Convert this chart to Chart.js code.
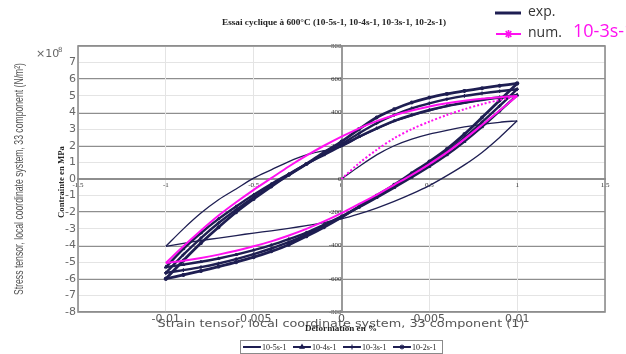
<!DOCTYPE html>
<html>
<head>
<meta charset="utf-8">
<title>Essai cyclique à 600°C</title>
<style>
  html, body { margin: 0; padding: 0; background: #ffffff; }
  #wrap { width: 626px; height: 354px; position: relative; }
</style>
<script src="https://cdn.jsdelivr.net/npm/chart.js@4.4.0/dist/chart.umd.min.js"></script>
</head>
<body>
<div id="wrap"><canvas id="c" width="626" height="354"></canvas></div>
<script>
// Strain (%) sampled along each branch of the hysteresis loops
const strainUp   = [-1, -0.9, -0.8, -0.7, -0.6, -0.5, -0.4, -0.3, -0.2, -0.1, 0, 0.1, 0.2, 0.3, 0.4, 0.5, 0.6, 0.7, 0.8, 0.9, 1];
const strainDown = [1, 0.9, 0.8, 0.7, 0.6, 0.5, 0.4, 0.3, 0.2, 0.1, 0, -0.1, -0.2, -0.3, -0.4, -0.5, -0.6, -0.7, -0.8, -0.9, -1];
const strainLoad = [0, 0.1, 0.2, 0.3, 0.4, 0.5, 0.6, 0.7, 0.8, 0.9, 1];

// Experimental curves, stress in MPa: first loading, unloading, reloading
const exp5Load = [0, 75, 145, 200, 240, 270, 293, 313, 329, 341, 350];
const exp5Down = [350, 250, 160, 85, 20, -40, -90, -135, -175, -210, -240, -262, -280, -297, -312, -325, -340, -355, -370, -387, -405];
const exp5Up   = [-405, -300, -205, -125, -60, 5, 55, 105, 145, 170, 195, 250, 300, 345, 380, 410, 435, 455, 472, 486, 498];

const exp4Up   = [-530, -420, -325, -240, -165, -95, -30, 30, 90, 145, 200, 255, 305, 350, 385, 415, 440, 460, 478, 492, 505];
const exp4Down = [505, 408, 313, 225, 145, 75, 10, -52, -112, -170, -225, -275, -322, -362, -398, -428, -455, -478, -498, -515, -530];

const exp3Up   = [-565, -455, -355, -265, -185, -110, -40, 25, 90, 150, 210, 275, 335, 385, 425, 455, 480, 500, 515, 528, 540];
const exp3Down = [540, 440, 342, 248, 162, 90, 22, -42, -105, -168, -228, -285, -335, -380, -418, -452, -482, -508, -530, -548, -565];

const exp2Up   = [-600, -490, -385, -290, -200, -120, -45, 25, 90, 160, 225, 300, 370, 420, 460, 490, 512, 530, 546, 561, 575];
const exp2Down = [575, 472, 370, 270, 180, 105, 35, -35, -100, -165, -230, -290, -345, -395, -435, -470, -500, -527, -553, -577, -600];

// Simulated loop at 10-3 s-1 and its first loading
const numUp   = [-505, -405, -310, -220, -140, -65, 5, 75, 140, 200, 255, 305, 348, 383, 412, 436, 455, 470, 482, 492, 500];
const numDown = [500, 412, 325, 240, 160, 90, 25, -35, -95, -150, -205, -255, -300, -340, -375, -405, -432, -455, -475, -492, -505];
const numLoad = [0, 95, 175, 245, 300, 345, 385, 420, 450, 475, 497];

const rateLabels = ['10-5s-1', '10-4s-1', '10-3s-1', '10-2s-1'];

const NAVY = '#1e1e52';
const PINK = '#ff10f0';
const GRID_DARK = '#8e8e8e';
const GRID_LIGHT = '#e4e4e4';

function pts(xs, ys) { return xs.map((x, i) => ({ x: x, y: ys[i] })); }

function branch(label, xs, ys, extra) {
  return Object.assign({
    label: label,
    data: pts(xs, ys),
    showLine: true,
    borderColor: NAVY,
    backgroundColor: NAVY,
    borderWidth: 2.4,
    pointRadius: 0,
    tension: 0.3,
    order: 2
  }, extra || {});
}

const thin5 = { borderWidth: 1.3, order: 4 };
const markers4 = { pointRadius: 1.6, pointStyle: 'triangle', pointBorderWidth: 1, order: 3 };
const markers3 = { pointRadius: 1.8, pointStyle: 'cross', pointBorderWidth: 1.2, order: 2 };
const markers2 = { pointRadius: 2, pointStyle: 'star', pointBorderWidth: 1.1, borderWidth: 2.8, order: 1 };
const sim = { borderColor: PINK, backgroundColor: PINK, borderWidth: 2, order: 0 };

const datasets = [
  branch(rateLabels[0], strainLoad, exp5Load, thin5),
  branch(rateLabels[0], strainDown, exp5Down, thin5),
  branch(rateLabels[0], strainUp, exp5Up, thin5),
  branch(rateLabels[1], strainUp, exp4Up, markers4),
  branch(rateLabels[1], strainDown, exp4Down, markers4),
  branch(rateLabels[2], strainUp, exp3Up, markers3),
  branch(rateLabels[2], strainDown, exp3Down, markers3),
  branch(rateLabels[3], strainUp, exp2Up, markers2),
  branch(rateLabels[3], strainDown, exp2Down, markers2),
  branch('num.', strainUp, numUp, sim),
  branch('num.', strainDown, numDown, sim),
  branch('num.', strainLoad, numLoad, Object.assign({}, sim, { borderDash: [2, 2] }))
];

// Fitted text: drawn centred at (x, y), squeezed horizontally to the given width
function fitText(ctx, text, x, y, width, font, color, rot) {
  ctx.save();
  ctx.font = font;
  ctx.fillStyle = color;
  ctx.textAlign = 'center';
  ctx.textBaseline = 'middle';
  ctx.translate(x, y);
  if (rot) ctx.rotate(rot);
  if (width) {
    const w = ctx.measureText(text).width;
    ctx.scale(width / w, 1);
  }
  ctx.fillText(text, 0, 0);
  ctx.restore();
}

function marker(ctx, style, x, y, r, color, bw) {
  ctx.save();
  ctx.strokeStyle = color;
  ctx.fillStyle = color;
  ctx.lineWidth = bw;
  Chart.helpers.drawPoint(ctx, { pointStyle: style, radius: r, borderWidth: bw, rotation: 0 }, x, y);
  ctx.restore();
}

const decorations = {
  id: 'decorations',
  beforeDatasetsDraw(chart) {
    const { ctx, chartArea: a } = chart;
    ctx.save();
    ctx.strokeStyle = GRID_DARK;
    ctx.lineWidth = 1.6;
    ctx.strokeRect(a.left, a.top, a.right - a.left, a.bottom - a.top);
    ctx.restore();
  },
  afterDraw(chart) {
    const ctx = chart.ctx;
    // chart title
    fitText(ctx, 'Essai cyclique à 600°C (10-5s-1, 10-4s-1, 10-3s-1, 10-2s-1)', 334, 23, 224, 'bold 9px "Liberation Serif"', '#222');

    // exponent of the N/m² axis
    ctx.save();
    ctx.fillStyle = '#666';
    ctx.font = '11px "DejaVu Sans"';
    ctx.textBaseline = 'middle';
    ctx.fillText('×10', 36, 54);
    ctx.font = '7px "DejaVu Sans"';
    ctx.fillText('8', 58, 50);
    ctx.restore();

    // axis titles
    fitText(ctx, 'Stress tensor, local coordinate system, 33 component (N/m²)', 20, 179, 232, '12px "Liberation Sans"', '#555', -Math.PI / 2);
    fitText(ctx, 'Strain tensor, local coordinate system, 33 component (1)', 341, 324, 367, '11px "DejaVu Sans"', '#555');
    fitText(ctx, 'Contrainte en MPa', 62, 182, 72, 'bold 8px "Liberation Serif"', '#222', -Math.PI / 2);
    fitText(ctx, 'Déformation en %', 341, 329, 72, 'bold 8px "Liberation Serif"', '#222');

    // legend: experiment vs simulation
    ctx.save();
    ctx.lineCap = 'butt';
    ctx.strokeStyle = NAVY;
    ctx.lineWidth = 3;
    ctx.beginPath(); ctx.moveTo(495, 13); ctx.lineTo(521, 13); ctx.stroke();
    ctx.strokeStyle = PINK;
    ctx.lineWidth = 2;
    ctx.beginPath(); ctx.moveTo(496, 34); ctx.lineTo(521, 34); ctx.stroke();
    ctx.restore();
    marker(ctx, 'star', 508.5, 34, 4, PINK, 1.6);
    ctx.save();
    ctx.textBaseline = 'middle';
    ctx.fillStyle = '#333';
    ctx.font = '14px "Open Sans"';
    ctx.fillText('exp.', 528, 12);
    ctx.fillText('num.', 528, 33);
    ctx.fillStyle = PINK;
    ctx.font = '18px "Open Sans"';
    ctx.fillText('10-3s-1', 573, 32);
    ctx.restore();

    // legend: strain rates
    ctx.save();
    ctx.strokeStyle = '#8a8a8a';
    ctx.lineWidth = 1;
    ctx.strokeRect(240.5, 340.5, 202, 13);
    const lx = [243, 293, 343, 393];
    const styles = [null, 'triangle', 'cross', 'star'];
    ctx.font = '8px "Liberation Serif"';
    ctx.textBaseline = 'middle';
    rateLabels.forEach((lab, i) => {
      ctx.strokeStyle = NAVY;
      ctx.lineWidth = 2;
      ctx.beginPath(); ctx.moveTo(lx[i], 347); ctx.lineTo(lx[i] + 18, 347); ctx.stroke();
      if (styles[i]) marker(ctx, styles[i], lx[i] + 9, 347, 2.4, NAVY, 1.1);
      ctx.fillStyle = '#222';
      ctx.fillText(lab, lx[i] + 19, 347.5);
    });
    ctx.restore();
  }
};

const serifTicks = { family: 'Liberation Serif', size: 7 };
const sansTicks = { family: 'DejaVu Sans', size: 11 };

new Chart(document.getElementById('c'), {
  type: 'scatter',
  data: { datasets: datasets },
  options: {
    responsive: false,
    animation: false,
    events: [],
    layout: { padding: { top: 46, right: 21, left: 0, bottom: 0 } },
    plugins: { legend: { display: false }, tooltip: { enabled: false }, title: { display: false } },
    scales: {
      // strain in % and stress in MPa, axes crossing at the origin
      x: {
        type: 'linear', min: -1.5, max: 1.5, position: { y: 0 },
        ticks: { stepSize: 0.5, color: '#333', font: serifTicks, padding: 2, maxRotation: 0,
                 callback: v => String(Math.round(v * 10) / 10) },
        grid: { color: GRID_LIGHT, lineWidth: 1, drawTicks: false },
        border: { color: GRID_DARK, width: 2 }
      },
      y: {
        type: 'linear', min: -800, max: 800, position: { x: 0 },
        ticks: { stepSize: 200, color: '#333', font: serifTicks, padding: 3,
                 callback: v => String(v) },
        grid: { color: GRID_DARK, lineWidth: 2, drawTicks: false },
        border: { color: '#9a9a9a', width: 2 }
      },
      // strain (1) and stress (N/m²) along the frame
      xFE: {
        type: 'linear', min: -0.015, max: 0.015, position: 'bottom',
        afterFit: s => { s.height = 42; },
        ticks: { stepSize: 0.005, color: '#555', font: sansTicks, padding: 1, maxRotation: 0,
                 callback: v => { const r = Math.round(v * 1000) / 1000; return Math.abs(r) > 0.0101 ? '' : String(r); } },
        grid: { color: GRID_LIGHT, lineWidth: 1, drawTicks: false },
        border: { display: false }
      },
      yFE: {
        type: 'linear', min: -8, max: 8, position: 'left',
        afterFit: s => { s.width = 78; },
        ticks: { stepSize: 1, color: '#666', font: sansTicks, padding: 2,
                 callback: v => (v === 8 ? '' : String(v)) },
        grid: { color: GRID_LIGHT, lineWidth: 1, drawTicks: false },
        border: { display: false }
      }
    }
  },
  plugins: [decorations]
});
</script>
</body>
</html>
